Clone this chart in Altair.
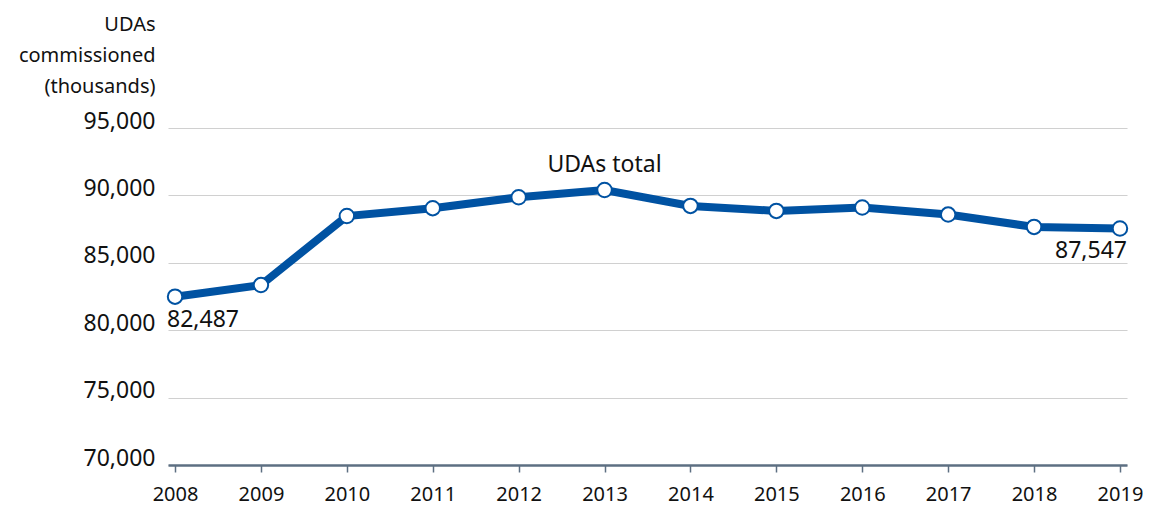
import altair as alt
import pandas as pd

years = [2008, 2009, 2010, 2011, 2012, 2013, 2014, 2015, 2016, 2017, 2018, 2019]
udas = [82487, 83350, 88470, 89050, 89860, 90400, 89220, 88850, 89100, 88580, 87660, 87547]
y_ticks = [70000, 75000, 80000, 85000, 90000, 95000]
y_title = ["UDAs", "commissioned", "(thousands)"]

df = pd.DataFrame({"year": years, "udas": udas})

FONT = "Noto Sans"
BLUE = "#0052a2"
TXT = "#111111"

x = alt.X("year:Q",
          scale=alt.Scale(domain=[2007.918, 2019.082], nice=False, zero=False),
          axis=alt.Axis(values=years, format="d", title=None, grid=False,
                        domainColor="#5d6f82", domainWidth=2.5,
                        tickColor="#5d6f82", tickWidth=1.5, tickSize=7,
                        labelFontSize=20, labelFont=FONT, labelColor=TXT,
                        labelBaseline="alphabetic", labelPadding=28,
                        labelFlush=False))
y = alt.Y("udas:Q",
          scale=alt.Scale(domain=[70000, 95000], nice=False, zero=False),
          axis=alt.Axis(values=y_ticks, format=",d", domain=False, ticks=False,
                        grid=True, gridColor="#d0d0d0", gridWidth=1.2,
                        labelFontSize=23, labelFont=FONT, labelColor=TXT,
                        labelBaseline="alphabetic", labelPadding=13,
                        title=y_title,
                        titleAngle=0, titleAlign="right", titleBaseline="alphabetic",
                        titleX=-13, titleY=-98, titleLineHeight=31,
                        titleFontSize=20, titleFont=FONT, titleFontWeight="normal",
                        titleColor=TXT))

base = alt.Chart(df)

line = base.mark_line(color=BLUE, strokeWidth=8).encode(x=x, y=y)
pts = base.mark_point(filled=True, fill="white", stroke=BLUE, strokeWidth=2,
                      size=210, opacity=1, shape="circle").encode(x="year:Q", y="udas:Q")

lab_first = alt.Chart(pd.DataFrame({"year": [years[0]], "udas": [udas[0]], "t": ["82,487"]})).mark_text(
    align="left", baseline="alphabetic", dx=-8, dy=30, fontSize=23, font=FONT, color=TXT
).encode(x="year:Q", y="udas:Q", text="t:N")
lab_last = alt.Chart(pd.DataFrame({"year": [years[-1]], "udas": [udas[-1]], "t": ["87,547"]})).mark_text(
    align="right", baseline="alphabetic", dx=7, dy=30, fontSize=23, font=FONT, color=TXT
).encode(x="year:Q", y="udas:Q", text="t:N")
lab_total = alt.Chart(pd.DataFrame({"year": [2013], "udas": [90400], "t": ["UDAs total"]})).mark_text(
    align="center", baseline="alphabetic", dy=-18, fontSize=23, font=FONT, color=TXT
).encode(x="year:Q", y="udas:Q", text="t:N")

chart = alt.layer(line, pts, lab_first, lab_last, lab_total).properties(
    width=959, height=337,
    background="white",
    autosize=alt.AutoSizeParams(type="none"),
    padding={"left": 160, "top": 120, "right": 16, "bottom": 41},
).configure_view(strokeWidth=0, stroke=None)

chart.save("out.html", embed_options={"renderer": "svg", "actions": False})
